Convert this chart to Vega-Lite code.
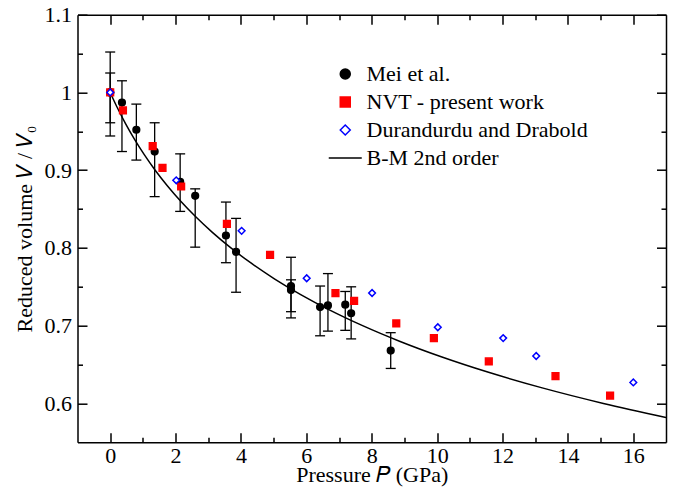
{
  "$schema": "https://vega.github.io/schema/vega-lite/v6.json",
  "width": 588.5,
  "height": 427.6,
  "autosize": {"type": "none"},
  "padding": {"left": 77.5, "top": 14.7, "right": 7, "bottom": 46.7},
  "background": "white",
  "config": {
    "view": {"stroke": null},
    "font": "Liberation Serif",
    "axis": {
      "grid": false,
      "domainColor": "black",
      "domainWidth": 1.5,
      "tickColor": "black",
      "tickWidth": 1.5,
      "labelFont": "Liberation Serif",
      "labelFontSize": 22,
      "labelColor": "black",
      "titleFont": "Liberation Serif",
      "titleFontSize": 22,
      "titleFontWeight": "normal",
      "titleColor": "black"
    },
    "legend": {
      "orient": "none",
      "legendX": 256.75,
      "legendY": 48.3,
      "padding": 0,
      "labelFont": "Liberation Serif",
      "labelFontSize": 22,
      "labelColor": "black",
      "labelLimit": 400,
      "labelOffset": 10.25,
      "rowPadding": 6,
      "symbolStrokeWidth": 1.5
    }
  },
  "datasets": {
    "pts": [
      {"series": "Mei et al.", "P": 0, "V": 1.0, "lo": 0.944, "hi": 1.052},
      {"series": "Mei et al.", "P": 0, "V": 1.0, "lo": 0.961, "hi": 1.025},
      {"series": "Mei et al.", "P": 0.36, "V": 0.987, "lo": 0.924, "hi": 1.015},
      {"series": "Mei et al.", "P": 0.8, "V": 0.952, "lo": 0.913, "hi": 0.985},
      {"series": "Mei et al.", "P": 1.36, "V": 0.924, "lo": 0.866, "hi": 0.961},
      {"series": "Mei et al.", "P": 2.14, "V": 0.885, "lo": 0.847, "hi": 0.921},
      {"series": "Mei et al.", "P": 2.6, "V": 0.867, "lo": 0.801, "hi": 0.876},
      {"series": "Mei et al.", "P": 3.54, "V": 0.816, "lo": 0.781, "hi": 0.859},
      {"series": "Mei et al.", "P": 3.85, "V": 0.795, "lo": 0.743, "hi": 0.838},
      {"series": "Mei et al.", "P": 5.53, "V": 0.751, "lo": 0.718, "hi": 0.788},
      {"series": "Mei et al.", "P": 5.53, "V": 0.746, "lo": 0.71, "hi": 0.759},
      {"series": "Mei et al.", "P": 6.42, "V": 0.724, "lo": 0.687, "hi": 0.751},
      {"series": "Mei et al.", "P": 6.66, "V": 0.726, "lo": 0.693, "hi": 0.767},
      {"series": "Mei et al.", "P": 7.19, "V": 0.727, "lo": 0.694, "hi": 0.744},
      {"series": "Mei et al.", "P": 7.37, "V": 0.716, "lo": 0.683, "hi": 0.75},
      {"series": "Mei et al.", "P": 8.58, "V": 0.668, "lo": 0.645, "hi": 0.691},
      {"series": "NVT - present work", "P": 0, "V": 1.0},
      {"series": "NVT - present work", "P": 0.39, "V": 0.977},
      {"series": "NVT - present work", "P": 1.3, "V": 0.931},
      {"series": "NVT - present work", "P": 1.6, "V": 0.903},
      {"series": "NVT - present work", "P": 2.17, "V": 0.879},
      {"series": "NVT - present work", "P": 3.57, "V": 0.831},
      {"series": "NVT - present work", "P": 4.89, "V": 0.791},
      {"series": "NVT - present work", "P": 6.89, "V": 0.742},
      {"series": "NVT - present work", "P": 7.46, "V": 0.732},
      {"series": "NVT - present work", "P": 8.75, "V": 0.703},
      {"series": "NVT - present work", "P": 9.9, "V": 0.684},
      {"series": "NVT - present work", "P": 11.58, "V": 0.654},
      {"series": "NVT - present work", "P": 13.62, "V": 0.635},
      {"series": "NVT - present work", "P": 15.29, "V": 0.61},
      {"series": "Durandurdu and Drabold", "P": 0, "V": 1.0},
      {"series": "Durandurdu and Drabold", "P": 2.02, "V": 0.887},
      {"series": "Durandurdu and Drabold", "P": 4.02, "V": 0.822},
      {"series": "Durandurdu and Drabold", "P": 6.01, "V": 0.761},
      {"series": "Durandurdu and Drabold", "P": 8.01, "V": 0.742},
      {"series": "Durandurdu and Drabold", "P": 10.02, "V": 0.698},
      {"series": "Durandurdu and Drabold", "P": 12.02, "V": 0.684},
      {"series": "Durandurdu and Drabold", "P": 13.03, "V": 0.661},
      {"series": "Durandurdu and Drabold", "P": 16.0, "V": 0.627}
    ],
    "bm": [
      {"P": 0, "V": 1.0},
      {"P": 0.2227, "V": 0.98},
      {"P": 0.4687, "V": 0.96},
      {"P": 0.741, "V": 0.94},
      {"P": 1.042, "V": 0.92},
      {"P": 1.376, "V": 0.9},
      {"P": 1.747, "V": 0.88},
      {"P": 2.158, "V": 0.86},
      {"P": 2.616, "V": 0.84},
      {"P": 3.125, "V": 0.82},
      {"P": 3.692, "V": 0.8},
      {"P": 4.325, "V": 0.78},
      {"P": 5.034, "V": 0.76},
      {"P": 5.827, "V": 0.74},
      {"P": 6.718, "V": 0.72},
      {"P": 7.72, "V": 0.7},
      {"P": 8.849, "V": 0.68},
      {"P": 10.125, "V": 0.66},
      {"P": 11.571, "V": 0.64},
      {"P": 13.213, "V": 0.62},
      {"P": 15.086, "V": 0.6},
      {"P": 17.0, "V": 0.582}
    ]
  },
  "layer": [
    {
      "data": {"name": "bm"},
      "mark": {"type": "line", "color": "black", "strokeWidth": 1.5, "interpolate": "monotone", "clip": true},
      "encoding": {
        "x": {
          "field": "P", "type": "quantitative",
          "scale": {"domain": [-1, 17], "nice": false, "zero": false},
          "axis": {
            "orient": "bottom",
            "values": [0, 2, 4, 6, 8, 10, 12, 14, 16],
            "ticks": false,
            "tickSize": 0,
            "format": "~g",
            "labelPadding": 3,
            "title": "Pressure 𝑃 (GPa)",
            "titlePadding": -2
          }
        },
        "y": {
          "field": "V", "type": "quantitative",
          "scale": {"domain": [0.55, 1.1], "nice": false, "zero": false},
          "axis": {
            "orient": "left",
            "values": [0.6, 0.7, 0.8, 0.9, 1.0, 1.1],
            "ticks": false,
            "tickSize": 0,
            "format": "~g",
            "labelPadding": 6,
            "title": "Reduced volume 𝑉 / 𝑉₀",
            "titlePadding": 8
          }
        }
      }
    },
    {
      "data": {"name": "pts"},
      "transform": [{"filter": "isValid(datum.lo)"}],
      "mark": {"type": "rule", "color": "black", "strokeWidth": 1.3},
      "encoding": {
        "x": {
          "field": "P", "type": "quantitative",
          "scale": {"domain": [-1, 17], "nice": false, "zero": false},
          "axis": {
            "orient": "top",
            "offset": -427.6,
            "domain": false,
            "values": [0, 1, 2, 3, 4, 5, 6, 7, 8, 9, 10, 11, 12, 13, 14, 15, 16],
            "tickSize": {"condition": {"test": "datum.value % 2 === 0", "value": 9.5}, "value": 5},
            "labels": false,
            "title": null
          }
        },
        "y": {
          "field": "lo", "type": "quantitative",
          "scale": {"domain": [0.55, 1.1], "nice": false, "zero": false},
          "axis": {
            "orient": "right",
            "offset": -588.5,
            "domain": false,
            "values": [0.6, 0.65, 0.7, 0.75, 0.8, 0.85, 0.9, 0.95, 1.0, 1.05, 1.1],
            "tickSize": {"condition": {"test": "abs(datum.value * 10 - round(datum.value * 10)) < 0.01", "value": 9.5}, "value": 5},
            "labels": false,
            "title": null
          }
        },
        "y2": {"field": "hi"}
      }
    },
    {
      "data": {"name": "pts"},
      "transform": [{"filter": "isValid(datum.lo)"}],
      "mark": {"type": "tick", "orient": "horizontal", "color": "black", "size": 10, "thickness": 1.3, "opacity": 1},
      "encoding": {
        "x": {
          "field": "P", "type": "quantitative",
          "scale": {"domain": [-1, 17], "nice": false, "zero": false},
          "axis": {
            "orient": "bottom",
            "offset": -427.6,
            "domain": true,
            "values": [0, 1, 2, 3, 4, 5, 6, 7, 8, 9, 10, 11, 12, 13, 14, 15, 16],
            "tickSize": {"condition": {"test": "datum.value % 2 === 0", "value": 9.5}, "value": 5},
            "labels": false,
            "title": null
          }
        },
        "y": {
          "field": "lo", "type": "quantitative",
          "scale": {"domain": [0.55, 1.1], "nice": false, "zero": false},
          "axis": {
            "orient": "left",
            "offset": -588.5,
            "domain": true,
            "values": [0.6, 0.65, 0.7, 0.75, 0.8, 0.85, 0.9, 0.95, 1.0, 1.05, 1.1],
            "tickSize": {"condition": {"test": "abs(datum.value * 10 - round(datum.value * 10)) < 0.01", "value": 9.5}, "value": 5},
            "labels": false,
            "title": null
          }
        }
      }
    },
    {
      "data": {"name": "pts"},
      "transform": [{"filter": "isValid(datum.hi)"}],
      "mark": {"type": "tick", "orient": "horizontal", "color": "black", "size": 10, "thickness": 1.3, "opacity": 1},
      "encoding": {
        "x": {"field": "P", "type": "quantitative", "scale": {"domain": [-1, 17], "nice": false, "zero": false}, "axis": null},
        "y": {"field": "hi", "type": "quantitative", "scale": {"domain": [0.55, 1.1], "nice": false, "zero": false}, "axis": null}
      }
    },
    {
      "data": {"name": "pts"},
      "mark": {"type": "point", "strokeWidth": 1.5, "opacity": 1, "size": 45},
      "encoding": {
        "x": {"field": "P", "type": "quantitative", "scale": {"domain": [-1, 17], "nice": false, "zero": false}, "axis": null},
        "y": {"field": "V", "type": "quantitative", "scale": {"domain": [0.55, 1.1], "nice": false, "zero": false}, "axis": null},
        "shape": {
          "field": "series", "type": "nominal",
          "scale": {"domain": ["Mei et al.", "NVT - present work", "Durandurdu and Drabold", "B-M 2nd order"], "range": ["circle", "square", "diamond", "M-3.3,0H3.3"]},
          "legend": {"title": null}
        },
        "fill": {
          "field": "series", "type": "nominal",
          "scale": {"domain": ["Mei et al.", "NVT - present work", "Durandurdu and Drabold", "B-M 2nd order"], "range": ["black", "#ff0000", "white", "black"]},
          "legend": {"title": null}
        },
        "stroke": {
          "field": "series", "type": "nominal",
          "scale": {"domain": ["Mei et al.", "NVT - present work", "Durandurdu and Drabold", "B-M 2nd order"], "range": ["black", "#ff0000", "#0000ff", "black"]},
          "legend": {"title": null}
        }
      }
    }
  ],
  "resolve": {"axis": {"x": "independent", "y": "independent"}}
}
